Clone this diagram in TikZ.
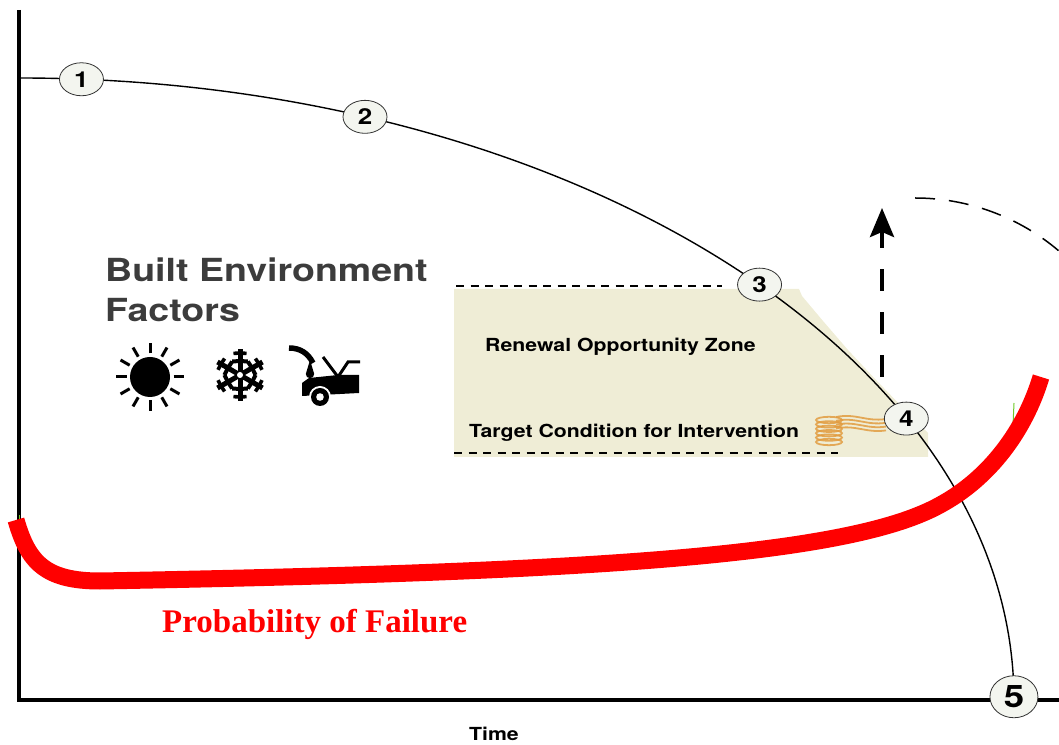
\documentclass[tikz,border=0pt]{standalone}
\usepackage{fontspec}
\setsansfont[FakeStretch=1.18]{TeX Gyre Heros}
\newfontfamily\pofffont{Liberation Serif}
\usetikzlibrary{arrows.meta,shapes.geometric,calc}

\definecolor{zonefill}{RGB}{239,237,214}
\definecolor{nodefill}{RGB}{243,245,239}
\definecolor{factorgrey}{RGB}{60,60,60}
\definecolor{coil}{RGB}{226,156,64}
\definecolor{tickgreen}{RGB}{110,200,40}

\begin{document}
\begin{tikzpicture}
    [x=1pt, y=1pt, >=Stealth,
    num/.style={ellipse, draw=black!80, line width=0.8pt, fill=nodefill, minimum width=44pt, minimum height=33pt, inner sep=0pt, font=\sffamily\bfseries\fontsize{22}{22}\selectfont},
    lbl/.style={anchor=base west, inner sep=0pt, font=\sffamily\bfseries\fontsize{18}{18}\selectfont},
    limit/.style={dash pattern=on 8pt off 6.5pt, line width=1.6pt},
    icon/.style={line width=3pt}]
    \useasboundingbox (0,0) rectangle (1059,744);

    % axes
    \coordinate (ytop) at (19,734);
    \coordinate (o) at (19,44);
    \coordinate (xend) at (1059,44);

    % renewal opportunity zone
    \fill[zonefill] (454,455) -- (799,455) -- (802,448) -- (823,423) -- (848,394) -- (876,364)
        -- (905,334) -- (928,311) -- (928,287) -- (454,287) -- cycle;
    \coordinate (ztl) at (456,458);
    \coordinate (ztr) at (722,458);
    \coordinate (zbl) at (454,291);
    \coordinate (zbr) at (838,291);
    \draw[limit] (ztl) -- (ztr);
    \draw[limit] (zbl) -- (zbr);
    \node[lbl] (roz) at (485,392) {Renewal Opportunity Zone};
    \node[lbl] (tci) at (469,306) {Target Condition for Intervention};

    % coil
    \begin{scope}[coil, line width=1.8pt, opacity=0.85]
    \foreach \k in {0,...,5}
        \draw (829,302+4.4*\k) ellipse [x radius=13pt, y radius=3.2pt];
    \foreach \k in {0,...,3}
        \draw (836,327-3.8*\k) .. controls (856,331-3.8*\k) and (866,322-3.8*\k) .. (886,325-3.8*\k);
    \end{scope}

    % condition curve
    \coordinate (c0) at ($(o)+(90:995pt and 622pt)$);
    \draw[line width=1.4pt] (c0) arc[start angle=90, end angle=0.3, x radius=995pt, y radius=622pt];
    \draw[line width=4pt] (ytop) -- (o) -- (xend);

    \node[num] (n1) at ($(o)+(86.4:995pt and 622pt)$) {1};
    \node[num] (n2) at ($(o)+(69.65:995pt and 622pt)$) {2};
    \node[num] (n3) at ($(o)+(41.9:995pt and 622pt)$) {3};
    \node[num] (n4) at ($(o)+(26.9:995pt and 622pt)$) {4};
    \node[num, minimum width=48pt, minimum height=42pt, font=\sffamily\bfseries\fontsize{31}{31}\selectfont] (n5) at ($(o)+(0.3:995pt and 622pt)$) {5};

    % renewal jump
    \coordinate (up0) at (882,367);
    \coordinate (up1) at (882,536);
    \draw[-{Stealth[length=29pt, width=24pt, inset=5pt]}, line width=4pt, dash pattern=on 22pt off 21pt] (up0) -- (up1);
    \coordinate (arc0) at (915,546);
    \draw[line width=1.5pt, dash pattern=on 20pt off 14pt] (arc0) arc[start angle=90, end angle=49.5, radius=222pt];

    % probability of failure
    \draw[tickgreen, line width=1pt] (1014,341) -- (1013,319);
    \draw[tickgreen, line width=1pt] (19.5,229) -- (19.5,222);
    \coordinate (pf0) at (16,224);
    \coordinate (pf1) at (100,163);
    \coordinate (pf2) at (940,239);
    \coordinate (pf3) at (1041,367);
    \draw[red, line width=17pt] (pf0) .. controls (28,182) and (45,163) .. (pf1)
        .. controls (600,172) and (850,189) .. (pf2)
        .. controls (990,266) and (1025,314) .. (pf3);
    \node[anchor=base west, inner sep=0pt, red, font=\pofffont\bfseries\fontsize{33}{33}\selectfont] (pof) at (162,112) {Probability of Failure};

    % built environment factors
    \node[anchor=base west, inner sep=0pt, align=left, factorgrey, font=\sffamily\bfseries\fontsize{31.8}{40}\selectfont] (bef) at (105,422) {Built Environment\\Factors};
    \coordinate (sun) at (150,367);
    \fill (sun) circle[radius=20pt];
    \foreach \a in {0,30,...,330}
        \draw[icon] ($(sun)+(\a:23.5pt)$) -- ($(sun)+(\a:34pt)$);
    \coordinate (snow) at (240,369);
    \foreach \a in {30,90,...,330} {
        \draw[line width=5pt] (snow) -- ++(\a:26pt);
        \draw[line width=4pt] ($(snow)+(\a:9pt)+(\a+60:9pt)$) -- ($(snow)+(\a:14pt)$) -- ($(snow)+(\a:9pt)+(\a-60:9pt)$);
        \draw[line width=3.6pt] ($(snow)+(\a:17pt)+(\a+55:8pt)$) -- ($(snow)+(\a:22pt)$) -- ($(snow)+(\a:17pt)+(\a-55:8pt)$);
    }
    \fill[white] (snow) circle[radius=3pt];
    \coordinate (car) at (320,347);
    \draw[line width=5.5pt] (289,396) .. controls (300,396) and (308,391) .. (313,381);
    \fill (310,384) -- (305.8,370) arc[start angle=180, end angle=360, radius=4.2pt] -- cycle;
    \fill (302,348) -- (302,361) -- (309,366) -- (338,369) -- (359,369) -- (359,351) -- cycle;
    \draw[icon] (323,387) -- (338,367) -- (348,382) -- (360,382);
    \fill[white] (car) circle[radius=11pt];
    \fill (car) circle[radius=9pt];
    \fill[white] (car) circle[radius=3.8pt];

    \node[lbl] (time) at (469,4) {Time};
\end{tikzpicture}
\end{document}
